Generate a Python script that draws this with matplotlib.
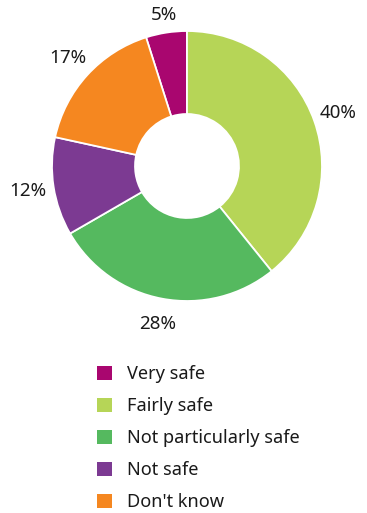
import numpy as np
import matplotlib.pyplot as plt
from matplotlib.patches import Patch

categories = ["Very safe", "Fairly safe", "Not particularly safe", "Not safe", "Don't know"]
percent = [5, 40, 28, 12, 17]
colors = ["#a9066f", "#b6d557", "#55b95f", "#7c3a92", "#f58720"]

plt.rcParams['font.family'] = ['Noto Sans', 'DejaVu Sans']

W, H = 367, 513
fig = plt.figure(figsize=(W / 100, H / 100), dpi=100)
ax = fig.add_axes([0, 0, 1, 1])
ax.set_xlim(0, W)
ax.set_ylim(0, H)
ax.set_aspect('equal')
ax.axis('off')

cx, cy, r = 187, H - 166, 135
total = sum(percent)
# first slice ends exactly at 12 o'clock, the rest go clockwise from there
start = 90 + 360 * percent[0] / total
wedges, _ = ax.pie(percent, colors=colors, center=(cx, cy), radius=r,
                   startangle=start, counterclock=False,
                   wedgeprops=dict(width=r * 0.615, edgecolor='white', linewidth=1.3))
ax.set_xlim(0, W)
ax.set_ylim(0, H)

for w, p in zip(wedges, percent):
    mid = np.deg2rad((w.theta1 + w.theta2) / 2)
    d = r * (1.13 if p < 8 else 1.19)
    ax.text(cx + d * np.cos(mid), cy + d * np.sin(mid), f"{p}%",
            ha='center', va='center', fontsize=13.5, color='#1a1a1a')

handles = [Patch(facecolor=c, edgecolor='none') for c in colors]
fig.legend(handles, categories, loc='upper left', bbox_to_anchor=(88 / W, 1 - 356 / H),
           frameon=False, fontsize=13.1, handlelength=0.82, handleheight=0.82,
           handletextpad=0.85, labelspacing=0.77, borderpad=0, labelcolor='#1a1a1a')

fig.savefig("out.png", dpi=100)
